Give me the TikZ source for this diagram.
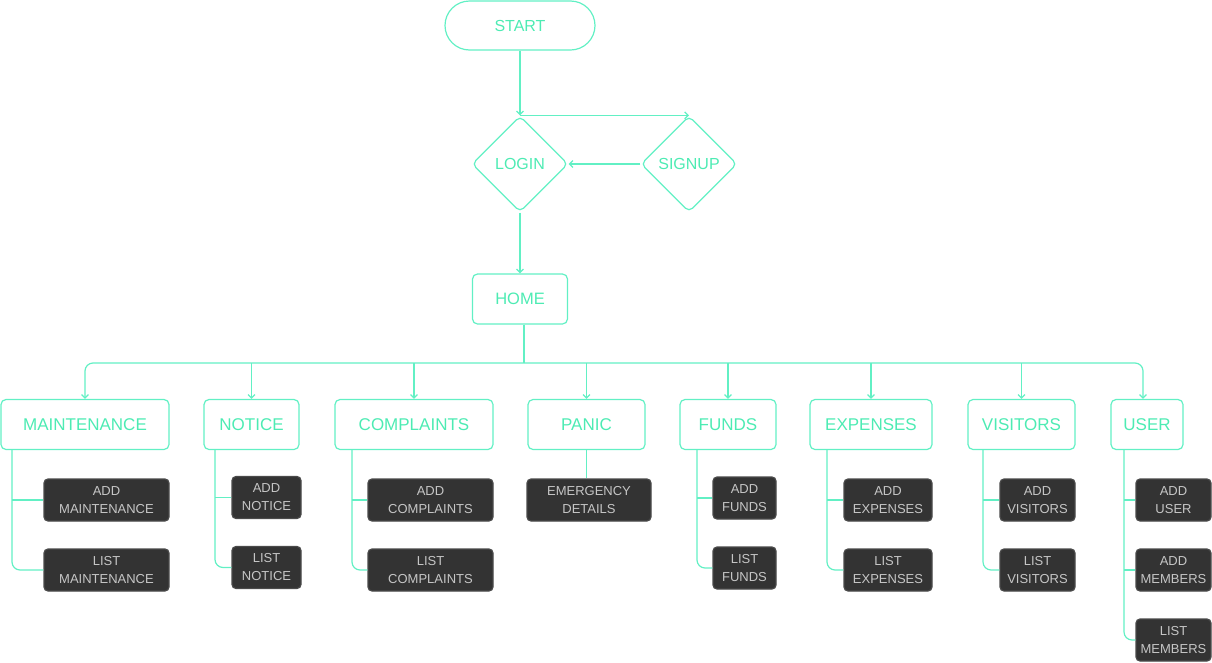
\documentclass[tikz,border=0pt]{standalone}
\usepackage{fontspec}
\setmainfont{Liberation Sans}
\usetikzlibrary{shapes.geometric,arrows.meta,calc}
\definecolor{mint}{HTML}{62F0C4}
\definecolor{minttext}{HTML}{4DEBB3}
\definecolor{darkbox}{HTML}{333333}
\definecolor{darkedge}{HTML}{4A4A4A}
\definecolor{subtext}{HTML}{C6C6C6}
\begin{document}
\begin{tikzpicture}[x=1pt,y=-1pt,line width=1.2pt,
  greenbox/.style={draw=mint, rounded corners=5pt, text=minttext, font=\fontsize{17}{20}\selectfont, minimum height=50pt, inner sep=0pt},
  decision/.style={diamond, draw=mint, rounded corners=5pt, minimum width=96pt, minimum height=96pt, inner sep=0pt, text=minttext, font=\fontsize{16}{19}\selectfont},
  subbox/.style={fill=darkbox, draw=darkedge, rounded corners=4pt, text=subtext, font=\fontsize{13}{18}\selectfont, align=center, minimum height=42pt, inner sep=0pt},
  link/.style={draw=mint},
  arr/.style={draw=mint, -{Straight Barb[length=3.5pt,width=7pt]}}]
\useasboundingbox (0,0) rectangle (1212,662);

% top flow
\node[greenbox, rounded corners=24.5pt, minimum width=150pt, minimum height=49pt, font=\fontsize{16}{19}\selectfont] (start) at (520,25.5) {START};
\node[decision] (login) at (520,164) {LOGIN};
\node[decision] (signup) at (689,164) {SIGNUP};
\node[greenbox, minimum width=95pt, font=\fontsize{16.5}{19}\selectfont] (home) at (520,299) {HOME};

\draw[arr] (start.south) -- (login.north);
\draw[arr] (login.north) -- (signup.north);
\draw[arr] (signup.west) -- (login.east);
\draw[arr] (login.south) -- (home.north);

% modules
\node[greenbox, minimum width=168pt] (maint) at (85,424.5) {MAINTENANCE};
\node[greenbox, minimum width=95pt] (notice) at (251.5,424.5) {NOTICE};
\node[greenbox, minimum width=158pt] (compl) at (414,424.5) {COMPLAINTS};
\node[greenbox, minimum width=117pt] (panic) at (586.5,424.5) {PANIC};
\node[greenbox, minimum width=96pt] (funds) at (728,424.5) {FUNDS};
\node[greenbox, minimum width=122pt] (exp) at (871,424.5) {EXPENSES};
\node[greenbox, minimum width=107pt] (vis) at (1021.5,424.5) {VISITORS};
\node[greenbox, minimum width=72pt] (user) at (1147,424.5) {USER};

% bus
\coordinate (bus) at (524,363);
\draw[link] (home.south -| bus) -- (bus);
\draw[arr, rounded corners=8pt] (bus) -| (maint.north);
\draw[arr, rounded corners=8pt] (bus) -| ([xshift=-4pt]user.north);
\foreach \n in {notice,compl,panic,funds,exp,vis}{
  \draw[arr] (\n.north |- bus) -- (\n.north);
}

% sub boxes
\node[subbox, minimum width=125pt] (am) at (106.5,500) {ADD\\MAINTENANCE};
\node[subbox, minimum width=125pt] (lm) at (106.5,570) {LIST\\MAINTENANCE};
\node[subbox, minimum width=69pt] (an) at (266.5,497.5) {ADD\\NOTICE};
\node[subbox, minimum width=69pt] (ln) at (266.5,567.5) {LIST\\NOTICE};
\node[subbox, minimum width=125pt] (ac) at (430.5,500) {ADD\\COMPLAINTS};
\node[subbox, minimum width=125pt] (lc) at (430.5,570) {LIST\\COMPLAINTS};
\node[subbox, minimum width=124pt] (em) at (589,500) {EMERGENCY\\DETAILS};
\node[subbox, minimum width=63pt] (af) at (744.5,498) {ADD\\FUNDS};
\node[subbox, minimum width=63pt] (lf) at (744.5,568) {LIST\\FUNDS};
\node[subbox, minimum width=88pt] (ae) at (888,500) {ADD\\EXPENSES};
\node[subbox, minimum width=88pt] (le) at (888,570) {LIST\\EXPENSES};
\node[subbox, minimum width=75pt] (av) at (1037.5,500) {ADD\\VISITORS};
\node[subbox, minimum width=75pt] (lv) at (1037.5,570) {LIST\\VISITORS};
\node[subbox, minimum width=75pt] (au) at (1173.5,500) {ADD\\USER};
\node[subbox, minimum width=75pt] (amem) at (1173.5,570) {ADD\\MEMBERS};
\node[subbox, minimum width=75pt] (lmem) at (1173.5,640) {LIST\\MEMBERS};

% sub connectors
\coordinate (tm) at (12,449);
\coordinate (tn) at (215,449);
\coordinate (tc) at (352,449);
\coordinate (tf) at (697,449);
\coordinate (te) at (827,449);
\coordinate (tv) at (983,449);
\coordinate (tu) at (1124,449);

\draw[link, rounded corners=8pt] (tm) |- (lm.west);
\draw[link] (am.west) -- (am.west -| tm);
\draw[link, rounded corners=8pt] (tn) |- (ln.west);
\draw[link] (an.west) -- (an.west -| tn);
\draw[link, rounded corners=8pt] (tc) |- (lc.west);
\draw[link] (ac.west) -- (ac.west -| tc);
\draw[link] (panic.south) -- (panic.south |- em.north);
\draw[link, rounded corners=8pt] (tf) |- (lf.west);
\draw[link] (af.west) -- (af.west -| tf);
\draw[link, rounded corners=8pt] (te) |- (le.west);
\draw[link] (ae.west) -- (ae.west -| te);
\draw[link, rounded corners=8pt] (tv) |- (lv.west);
\draw[link] (av.west) -- (av.west -| tv);
\draw[link, rounded corners=8pt] (tu) |- (lmem.west);
\draw[link] (au.west) -- (au.west -| tu);
\draw[link] (amem.west) -- (amem.west -| tu);
\end{tikzpicture}
\end{document}
